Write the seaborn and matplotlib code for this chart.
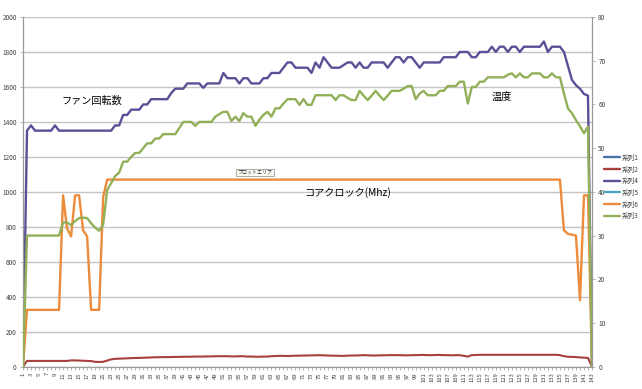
import numpy as np
import pandas as pd
import seaborn as sns
import matplotlib.pyplot as plt
from matplotlib.lines import Line2D

# ---------------- data ----------------
categories = list(range(1, 144))

fan_rpm = [
    0, 1350, 1380, 1350, 1350, 1350, 1350, 1350, 1380, 1350,
    1350, 1350, 1350, 1350, 1350, 1350, 1350, 1350, 1350, 1350,
    1350, 1350, 1350, 1380, 1380, 1440, 1440, 1470, 1470, 1470,
    1500, 1500, 1530, 1530, 1530, 1530, 1530, 1565, 1590, 1590,
    1590, 1620, 1620, 1620, 1620, 1595, 1620, 1620, 1620, 1620,
    1680, 1650, 1650, 1650, 1620, 1650, 1650, 1620, 1620, 1620,
    1650, 1650, 1680, 1680, 1680, 1710, 1740, 1740, 1710, 1710,
    1710, 1710, 1680, 1740, 1710, 1770, 1740, 1710, 1710, 1710,
    1725, 1740, 1740, 1710, 1740, 1710, 1710, 1740, 1740, 1740,
    1740, 1710, 1740, 1770, 1770, 1740, 1770, 1770, 1740, 1710,
    1740, 1740, 1740, 1740, 1740, 1770, 1770, 1770, 1770, 1800,
    1800, 1800, 1770, 1770, 1800, 1800, 1800, 1830, 1800, 1830,
    1830, 1800, 1830, 1830, 1800, 1830, 1830, 1830, 1830, 1830,
    1860, 1800, 1830, 1830, 1830, 1800, 1720, 1640, 1610, 1590,
    1560, 1550, 0,
]

temperature = [
    0, 30, 30, 30, 30, 30, 30, 30, 30, 30,
    33, 33, 32.4, 33.3, 34, 34.1, 34, 32.8, 31.8, 31.1,
    32.5, 40.4, 42, 43.6, 44.4, 46.9, 46.9, 48, 48.9, 48.9,
    50, 51.1, 51.1, 52.2, 52.2, 53.2, 53.2, 53.2, 53.2, 54.6,
    56, 56, 56, 55.1, 56, 56, 56, 56, 57.2, 57.8,
    58.3, 58.3, 56.2, 57.2, 56.2, 58, 57.2, 57.2, 55.1, 56.5,
    57.6, 58.3, 57.2, 59.1, 59.1, 60.2, 61.2, 61.2, 61.2, 59.9,
    61.2, 59.9, 59.9, 62.1, 62.1, 62.1, 62.1, 62.1, 61, 62.1,
    62.1, 61.5, 61, 61, 63.1, 62, 61, 62, 63.1, 62,
    61, 62, 63.1, 63.1, 63.1, 63.6, 64.2, 64.2, 61.2, 62.5,
    63.1, 62.1, 62.1, 62.1, 63.1, 63.1, 64.2, 64.2, 64.2, 65.2,
    65.2, 60.2, 64, 64, 65.2, 65.2, 66.2, 66.2, 66.2, 66.2,
    66.2, 66.8, 67.1, 66.2, 67.1, 66.2, 66.2, 67.1, 67.1, 67.1,
    66.2, 66.2, 67.1, 66.2, 66.2, 62.5, 59.1, 58, 56.4, 55,
    53.4, 54.9, 0,
]

core_clock = [
    0, 325, 325, 325, 325, 325, 325, 325, 325, 325,
    980, 790, 745, 980, 980, 780, 745, 325, 325, 325,
    970, 1070, 1070, 1070, 1070, 1070, 1070, 1070, 1070, 1070,
    1070, 1070, 1070, 1070, 1070, 1070, 1070, 1070, 1070, 1070,
    1070, 1070, 1070, 1070, 1070, 1070, 1070, 1070, 1070, 1070,
    1070, 1070, 1070, 1070, 1070, 1070, 1070, 1070, 1070, 1070,
    1070, 1070, 1070, 1070, 1070, 1070, 1070, 1070, 1070, 1070,
    1070, 1070, 1070, 1070, 1070, 1070, 1070, 1070, 1070, 1070,
    1070, 1070, 1070, 1070, 1070, 1070, 1070, 1070, 1070, 1070,
    1070, 1070, 1070, 1070, 1070, 1070, 1070, 1070, 1070, 1070,
    1070, 1070, 1070, 1070, 1070, 1070, 1070, 1070, 1070, 1070,
    1070, 1070, 1070, 1070, 1070, 1070, 1070, 1070, 1070, 1070,
    1070, 1070, 1070, 1070, 1070, 1070, 1070, 1070, 1070, 1070,
    1070, 1070, 1070, 1070, 1070, 780, 760, 755, 750, 380,
    980, 980, 0,
]

series2 = [
    0, 33, 33, 33, 33, 33, 33, 33, 33, 33,
    33, 33, 36, 36, 35, 34, 33, 32, 28, 27,
    28, 35, 42, 45, 46, 47, 48, 49, 50, 50,
    51, 52, 53, 54, 54, 55, 55, 55, 56, 56,
    57, 57, 57, 58, 58, 58, 59, 59, 60, 60,
    60, 60, 59, 59, 60, 60, 58, 58, 57, 57,
    58, 58, 60, 61, 62, 62, 61, 62, 63, 63,
    64, 64, 65, 65, 66, 65, 64, 63, 63, 62,
    62, 63, 64, 64, 65, 66, 65, 64, 64, 65,
    65, 66, 66, 66, 66, 65, 65, 66, 66, 67,
    67, 66, 66, 67, 67, 66, 66, 65, 66, 66,
    62, 58, 66, 67, 68, 68, 68, 68, 68, 68,
    68, 68, 68, 68, 68, 68, 68, 68, 68, 68,
    68, 68, 68, 68, 66, 60, 57, 56, 55, 53,
    52, 50, 0,
]

legend_labels = ["系列1", "系列2", "系列4", "系列5", "系列6", "系列3"]
left_ticks = [0, 200, 400, 600, 800, 1000, 1200, 1400, 1600, 1800, 2000]
right_ticks = [0, 10, 20, 30, 40, 50, 60, 70, 80]

# ---------------- style ----------------
sns.set_style("white")
plt.rcParams['font.family'] = ['Noto Sans CJK JP', 'DejaVu Sans']

c_blue = '#4a72a8'
c_red = '#a8403e'
c_purple = '#5b5097'
c_teal = '#4aa6bf'
c_orange = '#ec8b3b'
c_green = '#92b058'
grid_c = '#c4c4c4'
axis_c = '#9a9a9a'
text_c = '#404040'

df = pd.DataFrame({
    'x': categories,
    'fan': fan_rpm,
    'temp': temperature,
    'clock': core_clock,
    's2': series2,
})

fig = plt.figure(figsize=(6.42, 3.89), dpi=100)
ax = fig.add_axes([23 / 642, 1 - 366.7 / 389, (592 - 23) / 642, (366.7 - 17) / 389])
ax2 = ax.twinx()

lw = 1.7
sns.lineplot(data=df, x='x', y='s2', ax=ax, color=c_red, lw=1.5, legend=False)
sns.lineplot(data=df, x='x', y='fan', ax=ax, color=c_purple, lw=lw, legend=False)
sns.lineplot(data=df, x='x', y='clock', ax=ax, color=c_orange, lw=lw, legend=False)
sns.lineplot(data=df, x='x', y='temp', ax=ax2, color=c_green, lw=lw, legend=False)

ax.set_xlim(1, 143)
ax.set_ylim(0, 2000)
ax2.set_ylim(0, 80)
ax.set_xlabel('')
ax.set_ylabel('')
ax2.set_ylabel('')

ax.set_yticks(left_ticks)
ax.set_yticklabels([str(v) for v in left_ticks])
ax2.set_yticks(right_ticks)
ax2.set_yticklabels([str(v) for v in right_ticks])

ax.set_xticks(categories)
ax.set_xticklabels([str(v) if v % 2 == 1 else '' for v in categories],
                   rotation=90, fontsize=4.2, color=text_c)

ax.tick_params(axis='x', length=2.5, width=0.5, color=axis_c, pad=1.5, direction='out', bottom=True)
ax.tick_params(axis='y', length=2.5, width=0.5, color=axis_c, labelsize=4.6, labelcolor=text_c, pad=2, left=True)
ax2.tick_params(axis='y', length=2.5, width=0.5, color=axis_c, labelsize=4.6, labelcolor=text_c, pad=2, right=True)

ax.yaxis.grid(True, color=grid_c, lw=1.0)
ax.xaxis.grid(False)
ax2.grid(False)
ax.set_axisbelow(True)

for s in ['top', 'right']:
    ax.spines[s].set_visible(False)
for s in ['left', 'bottom']:
    ax.spines[s].set_color(axis_c)
    ax.spines[s].set_linewidth(0.9)
for s in ['top', 'left', 'bottom']:
    ax2.spines[s].set_visible(False)
ax2.spines['right'].set_color(axis_c)
ax2.spines['right'].set_linewidth(0.9)

# annotations
fig.text(92 / 642, 1 - 101 / 389, 'ファン回転数', fontsize=7.3, ha='center', va='center', color='black')
fig.text(502 / 642, 1 - 97 / 389, '温度', fontsize=7.3, ha='center', va='center', color='black')
fig.text(348 / 642, 1 - 193 / 389, 'コアクロック(Mhz)', fontsize=7.3, ha='center', va='center', color='black')
fig.text(255 / 642, 1 - 172.5 / 389, 'プロットエリア', fontsize=3.6, ha='center', va='center', color='#333333',
         bbox=dict(boxstyle='square,pad=0.25', fc='#fbfbf4', ec='#8a8a8a', lw=0.5))

# legend
handles = [Line2D([0], [0], color=c, lw=1.7) for c in [c_blue, c_red, c_purple, c_teal, c_orange, c_green]]
fig.legend(handles, legend_labels, loc='center left', bbox_to_anchor=(601 / 642, 1 - 187 / 389),
           frameon=False, fontsize=4.8, handlelength=2.4, handletextpad=0.3, labelspacing=0.55,
           borderaxespad=0, labelcolor=text_c)

fig.savefig('out.png', dpi=100, facecolor='white')
